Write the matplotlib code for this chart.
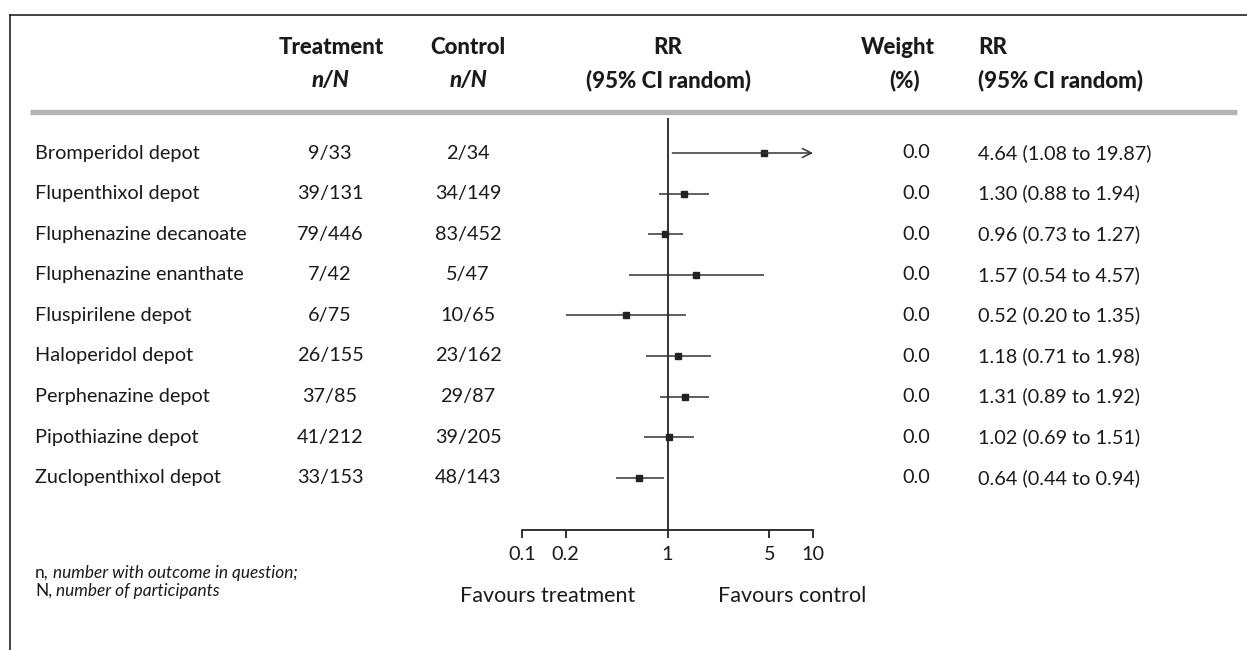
import matplotlib
matplotlib.use("Agg")
import matplotlib.pyplot as plt
from matplotlib.transforms import blended_transform_factory
from matplotlib.lines import Line2D

# ---- data ----
studies = ["Bromperidol depot", "Flupenthixol depot", "Fluphenazine decanoate",
           "Fluphenazine enanthate", "Fluspirilene depot", "Haloperidol depot",
           "Perphenazine depot", "Pipothiazine depot", "Zuclopenthixol depot"]
treat_nN = ["9/33", "39/131", "79/446", "7/42", "6/75", "26/155", "37/85", "41/212", "33/153"]
ctrl_nN = ["2/34", "34/149", "83/452", "5/47", "10/65", "23/162", "29/87", "39/205", "48/143"]
rr = [4.64, 1.30, 0.96, 1.57, 0.52, 1.18, 1.31, 1.02, 0.64]
lo = [1.08, 0.88, 0.73, 0.54, 0.20, 0.71, 0.89, 0.69, 0.44]
hi = [19.87, 1.94, 1.27, 4.57, 1.35, 1.98, 1.92, 1.51, 0.94]
weight = ["0.0"] * 9
xticks = [0.1, 0.2, 1, 5, 10]
xticklabels = ["0.1", "0.2", "1", "5", "10"]
footnote = [("n,", " number with outcome in question;"), ("N,", " number of participants")]

W, H = 1247, 650
plt.rcParams['font.family'] = ['Lato', 'DejaVu Sans']
TXT = '#1a1a1a'
FS = 14.3
HFS = 16

fig = plt.figure(figsize=(W / 100, H / 100), dpi=100)

def fx(px):
    return px / W

def fy(py):
    return 1 - py / H

# forest axes: x 0.1..10 from px 522..813, y from px 118..530
row0, drow = 153.0, 40.6
top_px, bot_px = 118, 530
ax = fig.add_axes([fx(522), fy(bot_px), fx(813) - fx(522), (bot_px - top_px) / H])
ax.set_xscale('log')
ax.set_xlim(0.1, 10)
ax.set_ylim((bot_px - row0) / drow, (top_px - row0) / drow)
for s in ['top', 'right', 'left']:
    ax.spines[s].set_visible(False)
ax.spines['bottom'].set_linewidth(1.3)
ax.spines['bottom'].set_color('#222222')
ax.set_yticks([])
ax.set_xticks(xticks)
ax.set_xticklabels(xticklabels)
ax.minorticks_off()
ax.tick_params(axis='x', direction='out', length=5.5, width=1.3, color='#222222',
               labelsize=FS, labelcolor=TXT, pad=6)
ax.patch.set_alpha(0)
ax.axvline(1, color='#222222', lw=1.3)

xmax = 10
for i in range(len(studies)):
    if hi[i] > xmax:
        ax.annotate("", xy=(xmax, i), xytext=(lo[i], i),
                    arrowprops=dict(arrowstyle='->', color='#333333', lw=1.1,
                                    mutation_scale=16, shrinkA=0, shrinkB=0))
    else:
        ax.plot([lo[i], hi[i]], [i, i], color='#333333', lw=1.1, solid_capstyle='butt')
    ax.plot([rr[i]], [i], marker='s', ms=5, color='#222222', ls='none')

# row texts
tr = blended_transform_factory(fig.transFigure, ax.transData)
for i in range(len(studies)):
    ax.text(fx(35), i, studies[i], transform=tr, ha='left', va='center', fontsize=FS, color=TXT)
    ax.text(fx(330), i, treat_nN[i], transform=tr, ha='center', va='center', fontsize=FS, color=TXT)
    ax.text(fx(468), i, ctrl_nN[i], transform=tr, ha='center', va='center', fontsize=FS, color=TXT)
    ax.text(fx(916), i, weight[i], transform=tr, ha='center', va='center', fontsize=FS, color=TXT)
    ax.text(fx(978), i, f"{rr[i]:.2f} ({lo[i]:.2f} to {hi[i]:.2f})", transform=tr,
            ha='left', va='center', fontsize=FS, color=TXT)

# headers
hkw = dict(fontsize=HFS, color=TXT, fontweight='black', va='center')
fig.text(fx(331), fy(47), "Treatment", ha='center', **hkw)
fig.text(fx(331), fy(80), "n/N", ha='center', style='italic', **hkw)
fig.text(fx(468), fy(47), "Control", ha='center', **hkw)
fig.text(fx(468), fy(80), "n/N", ha='center', style='italic', **hkw)
fig.text(fx(668), fy(47), "RR", ha='center', **hkw)
fig.text(fx(668), fy(80), "(95% CI random)", ha='center', **hkw)
fig.text(fx(898), fy(47), "Weight", ha='center', **hkw)
fig.text(fx(905), fy(80), "(%)", ha='center', **hkw)
fig.text(fx(978), fy(47), "RR", ha='left', **hkw)
fig.text(fx(978), fy(80), "(95% CI random)", ha='left', **hkw)

# grey header rule
fig.add_artist(Line2D([fx(30), fx(1237)], [fy(112), fy(112)], transform=fig.transFigure,
                      color='#b3b3b3', lw=3.8, solid_capstyle='butt'))
# frame (top and left)
fig.add_artist(Line2D([fx(10), fx(1247)], [fy(15), fy(15)], transform=fig.transFigure,
                      color='#222222', lw=1.2))
fig.add_artist(Line2D([fx(10), fx(10)], [fy(15), fy(650)], transform=fig.transFigure,
                      color='#222222', lw=1.2))

# favours labels
fig.text(fx(548), fy(596), "Favours treatment", ha='center', va='center', fontsize=15.5, color=TXT)
fig.text(fx(792), fy(596), "Favours control", ha='center', va='center', fontsize=15.5, color=TXT)

# footnote (upright symbol, italic description, shared baseline)
FN = 12.4
renderer = fig.canvas.get_renderer()
for (sym, desc), base_px in zip(footnote, [578, 596]):
    t = fig.text(fx(35), fy(base_px), sym, ha='left', va='baseline', fontsize=FN, color=TXT)
    x_end = t.get_window_extent(renderer).x1 / W
    fig.text(x_end, fy(base_px), desc, ha='left', va='baseline', fontsize=FN, color=TXT,
             style='italic')

fig.savefig("out.png", dpi=100)
